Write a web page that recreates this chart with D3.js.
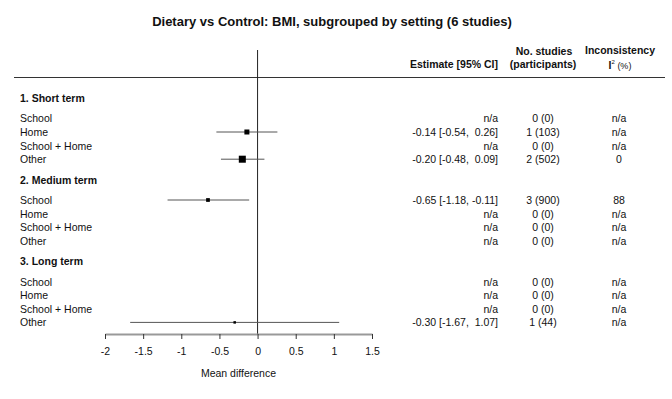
<!DOCTYPE html>
<html>
<head>
<meta charset="utf-8">
<script src="https://cdn.jsdelivr.net/npm/d3@7"></script>
<style>
  body { margin: 0; background: #fff; }
  svg text { font-family: "Liberation Sans", Arial, sans-serif; fill: #111; }
</style>
</head>
<body>
<div id="forest"></div>
<script>
// subgroups (time frame) and settings
var groups = ["1. Short term", "2. Medium term", "3. Long term"];
var settings = ["School", "Home", "School + Home", "Other"];

// one entry per group x setting, null = no studies
var estimate = [null, -0.14, null, -0.20,  -0.65, null, null, null,  null, null, null, -0.30];
var ciLow    = [null, -0.54, null, -0.48,  -1.18, null, null, null,  null, null, null, -1.67];
var ciHigh   = [null,  0.26, null,  0.09,  -0.11, null, null, null,  null, null, null,  1.07];
var nStudies = [0, 1, 0, 2,  3, 0, 0, 0,  0, 0, 0, 1];
var nPeople  = [0, 103, 0, 502,  900, 0, 0, 0,  0, 0, 0, 44];
var i2       = ["n/a", "n/a", "n/a", "0",  "88", "n/a", "n/a", "n/a",  "n/a", "n/a", "n/a", "n/a"];

var xTicks = [-2, -1.5, -1, -0.5, 0, 0.5, 1, 1.5];

var W = 672, H = 399;

var svg = d3.select("#forest").append("svg")
    .attr("width", W)
    .attr("height", H);

// x scale for the mean difference
var x = d3.scaleLinear().domain([-2, 1.5]).range([105, 372]);
// y in "row units": group header at 6*g, settings at 6*g + 1.5 + i
var y = d3.scaleLinear().domain([0, 1]).range([98, 111.6]);

function fmt(v) {
    var s = v.toFixed(2);
    return v < 0 ? s : " " + s;
}

// title
svg.append("text")
    .attr("x", 332).attr("y", 26)
    .attr("text-anchor", "middle")
    .style("font-size", "13px").style("font-weight", "bold")
    .text("Dietary vs Control: BMI, subgrouped by setting (6 studies)");

// column headers
var hdr = svg.append("g").style("font-size", "10.5px");
hdr.append("text").attr("x", 498).attr("y", 68).attr("text-anchor", "end")
    .style("font-weight", "bold").text("Estimate [95% CI]");
hdr.append("text").attr("x", 544).attr("y", 55).attr("text-anchor", "middle")
    .style("font-weight", "bold").text("No. studies");
hdr.append("text").attr("x", 543).attr("y", 68).attr("text-anchor", "middle")
    .style("font-weight", "bold").text("(participants)");
hdr.append("text").attr("x", 620).attr("y", 54).attr("text-anchor", "middle")
    .style("font-weight", "bold").text("Inconsistency");
var iq = hdr.append("text").attr("x", 620).attr("y", 69).attr("text-anchor", "middle");
iq.append("tspan").style("font-weight", "bold").text("I");
iq.append("tspan").attr("dy", -5).style("font-size", "6px").text("2");
iq.append("tspan").attr("dy", 5).style("font-size", "9px").text(" (%)");

// header rule
svg.append("line")
    .attr("x1", 14).attr("x2", 665)
    .attr("y1", 77.5).attr("y2", 77.5)
    .attr("stroke", "#333").attr("stroke-width", 1);

// rows
var rows = [];
groups.forEach(function(g, gi) {
    settings.forEach(function(s, si) {
        var k = gi * 4 + si;
        rows.push({
            label: s, pos: gi * 6 + 1.5 + si,
            est: estimate[k], lo: ciLow[k], hi: ciHigh[k],
            n: nStudies[k], p: nPeople[k], i2: i2[k]
        });
    });
});

svg.append("g").selectAll("text")
    .data(groups).enter().append("text")
    .attr("x", 20).attr("y", function(d, i) { return y(i * 6) + 4; })
    .style("font-size", "10.5px").style("font-weight", "bold")
    .text(function(d) { return d; });

svg.append("g").selectAll("text")
    .data(rows).enter().append("text")
    .attr("x", 20).attr("y", function(d) { return y(d.pos) + 4; })
    .style("font-size", "10.5px")
    .text(function(d) { return d.label; });

// zero line
svg.append("line")
    .attr("x1", x(0)).attr("x2", x(0))
    .attr("y1", 50).attr("y2", 334)
    .attr("stroke", "#222").attr("stroke-width", 1);

// axis
var axis = svg.append("g")
    .attr("transform", "translate(0,334)")
    .call(d3.axisBottom(x).tickValues(xTicks).tickSize(5).tickSizeOuter(0)
        .tickFormat(function(d) { return String(d); }));
axis.select(".domain").attr("stroke", "#999").attr("stroke-width", 2);
axis.selectAll(".tick line").attr("stroke", "#333");
axis.selectAll(".tick text")
    .attr("dy", "1.25em")
    .style("font-size", "10.5px")
    .style("font-family", "Liberation Sans, Arial, sans-serif")
    .attr("fill", "#111");

svg.append("text")
    .attr("x", x(-0.25)).attr("y", 377)
    .attr("text-anchor", "middle")
    .style("font-size", "10.5px")
    .text("Mean difference");

// CIs and boxes
var hasEst = rows.filter(function(d) { return d.est !== null; });
svg.append("g").selectAll("line")
    .data(hasEst).enter().append("line")
    .attr("x1", function(d) { return x(d.lo); })
    .attr("x2", function(d) { return x(d.hi); })
    .attr("y1", function(d) { return y(d.pos); })
    .attr("y2", function(d) { return y(d.pos); })
    .attr("stroke", "#555").attr("stroke-width", 1);

// box size ~ inverse of the CI width (precision)
function boxSize(d) { return Math.max(2.5, 4 / (d.hi - d.lo)); }
svg.append("g").selectAll("rect")
    .data(hasEst).enter().append("rect")
    .attr("x", function(d) { return x(d.est) - boxSize(d) / 2; })
    .attr("y", function(d) { return y(d.pos) - boxSize(d) / 2; })
    .attr("width", boxSize).attr("height", boxSize)
    .attr("fill", "#000");

// text columns
var cols = svg.append("g").style("font-size", "10.5px");
cols.selectAll("text.est")
    .data(rows).enter().append("text").attr("class", "est")
    .attr("x", 498).attr("y", function(d) { return y(d.pos) + 4; })
    .attr("text-anchor", "end")
    .attr("xml:space", "preserve")
    .style("white-space", "pre")
    .text(function(d) {
        return d.est === null ? "n/a" : fmt(d.est) + " [" + fmt(d.lo).trim() + ", " + fmt(d.hi) + "]";
    });
cols.selectAll("text.n")
    .data(rows).enter().append("text").attr("class", "n")
    .attr("x", 543).attr("y", function(d) { return y(d.pos) + 4; })
    .attr("text-anchor", "middle")
    .text(function(d) { return d.n + " (" + d.p + ")"; });
cols.selectAll("text.i2")
    .data(rows).enter().append("text").attr("class", "i2")
    .attr("x", 619).attr("y", function(d) { return y(d.pos) + 4; })
    .attr("text-anchor", "middle")
    .text(function(d) { return d.i2; });
</script>
</body>
</html>
